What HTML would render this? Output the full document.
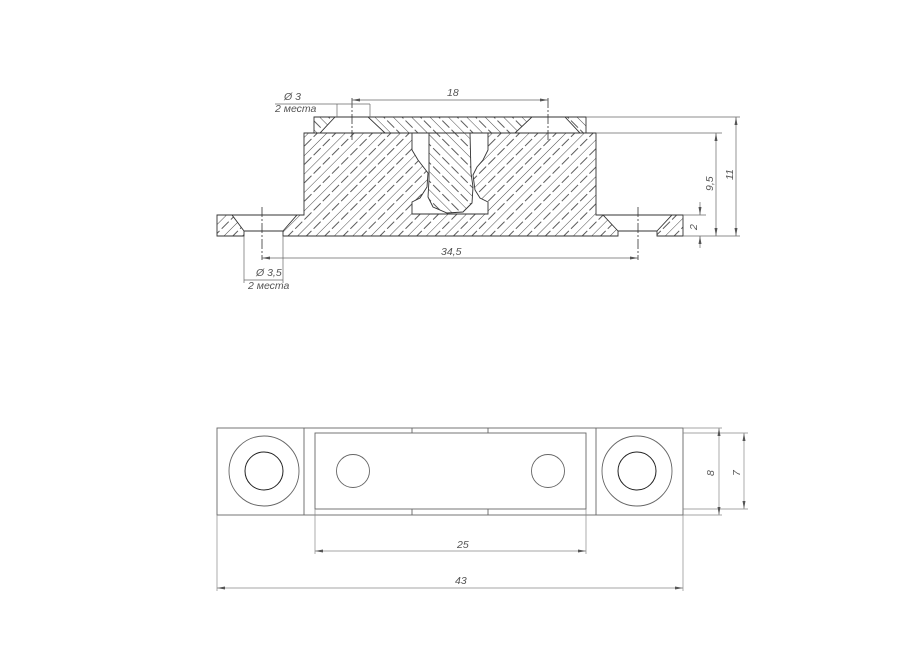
<!DOCTYPE html>
<html><head><meta charset="utf-8"><style>
html,body{margin:0;padding:0;background:#fff;}
svg{display:block;}
text{font-family:"Liberation Sans",sans-serif;font-style:italic;font-size:10.5px;fill:#555;}
</style></head><body>
<svg width="919" height="650" viewBox="0 0 919 650" xmlns="http://www.w3.org/2000/svg">
<defs>
<pattern id="hA" patternUnits="userSpaceOnUse" width="13" height="13" patternTransform="rotate(45)">
<line x1="0" y1="0" x2="0" y2="13" stroke="#222" stroke-width="0.8"/>
<line x1="6.5" y1="0" x2="6.5" y2="13" stroke="#333" stroke-width="0.8" stroke-dasharray="5,3"/>
</pattern>
<pattern id="hB" patternUnits="userSpaceOnUse" width="13" height="13" patternTransform="rotate(-45)">
<line x1="0" y1="0" x2="0" y2="13" stroke="#222" stroke-width="0.8"/>
<line x1="6.5" y1="0" x2="6.5" y2="13" stroke="#333" stroke-width="0.8" stroke-dasharray="5,3"/>
</pattern>
<marker id="ar" markerWidth="8" markerHeight="4" refX="8" refY="2" orient="auto-start-reverse" markerUnits="userSpaceOnUse">
<path d="M0,0.5 L8,2 L0,3.5 Z" fill="#555"/></marker>
</defs>

<g stroke="#333" stroke-width="0.9" stroke-linejoin="miter">
<path d="M217,215 L232,215 L244,231 L244,236 L217,236 Z" fill="url(#hA)"/>
<path fill-rule="evenodd" fill="url(#hA)" d="M283,236 L283,231 L297,215 L304,215 L304,133 L596,133 L596,215 L603,215 L618,231 L618,236 Z
M412,133 L488,133 L488,150 L483,160 L477,167 L473,175 L475,190 L480,198 L488,202 L488,214 L412,214 L412,202 L420,198 L427,187 L428,173 L418,160 L412,150 Z"/>
<path d="M657,236 L657,231 L672,215 L683,215 L683,236 Z" fill="url(#hA)"/>
<path d="M314,117 L335,117 L320,133 L314,133 Z" fill="url(#hB)"/>
<path d="M565,117 L586,117 L586,133 L580,133 Z" fill="url(#hB)"/>
<path d="M368,117 L532,117 L515,133 L470,133 L471,173 L473,187 L472,203 L463,212 L447,213 L433,207 L428,197 L429,180 L429,133 L385,133 Z" fill="url(#hB)"/>
<line x1="335" y1="117" x2="368" y2="117"/>
<line x1="532" y1="117" x2="565" y2="117"/>
<line x1="244" y1="231" x2="283" y2="231"/>
<line x1="618" y1="231" x2="657" y2="231"/>
<line x1="232" y1="215" x2="297" y2="215"/>
<line x1="603" y1="215" x2="672" y2="215"/>
</g>
<g stroke="#333" stroke-width="0.8" stroke-dasharray="10,2,2,2">
<line x1="352" y1="98" x2="352" y2="140"/>
<line x1="548" y1="98" x2="548" y2="140"/>
<line x1="262" y1="207" x2="262" y2="260"/>
<line x1="638" y1="207" x2="638" y2="260"/>
</g>
<g stroke="#666" stroke-width="0.7" fill="none">
<line x1="352" y1="100" x2="548" y2="100" marker-start="url(#ar)" marker-end="url(#ar)"/>
<line x1="275" y1="104" x2="370" y2="104"/>
<line x1="337" y1="104" x2="337" y2="117"/>
<line x1="370" y1="104" x2="370" y2="117"/>
<line x1="262" y1="258" x2="638" y2="258" marker-start="url(#ar)" marker-end="url(#ar)"/>
<line x1="244" y1="236" x2="244" y2="283"/>
<line x1="283" y1="236" x2="283" y2="283"/>
<line x1="244" y1="280" x2="283" y2="280"/>
<line x1="586" y1="117" x2="740" y2="117"/>
<line x1="596" y1="133" x2="722" y2="133"/>
<line x1="683" y1="236" x2="740" y2="236"/>
<line x1="683" y1="215" x2="706" y2="215"/>
<line x1="716" y1="133" x2="716" y2="236" marker-start="url(#ar)" marker-end="url(#ar)"/>
<line x1="736" y1="117" x2="736" y2="236" marker-start="url(#ar)" marker-end="url(#ar)"/>
<line x1="700" y1="202" x2="700" y2="215" marker-end="url(#ar)"/>
<line x1="700" y1="248" x2="700" y2="236" marker-end="url(#ar)"/>
</g>
<text x="447" y="96">18</text>
<text x="284" y="100">Ø 3</text>
<text x="275" y="112">2 места</text>
<text x="441" y="255">34,5</text>
<text x="256" y="276">Ø 3,5</text>
<text x="248" y="289">2 места</text>
<text transform="translate(713,191) rotate(-90)">9,5</text>
<text transform="translate(733,180) rotate(-90)">11</text>
<text transform="translate(697,230) rotate(-90)">2</text>

<g stroke="#666" stroke-width="0.9" fill="none">
<rect x="217" y="428" width="466" height="87"/>
<line x1="304" y1="428" x2="304" y2="515"/>
<line x1="596" y1="428" x2="596" y2="515"/>
<rect x="315" y="433" width="271" height="76"/>
<line x1="412" y1="428" x2="412" y2="433"/>
<line x1="488" y1="428" x2="488" y2="433"/>
<line x1="412" y1="509" x2="412" y2="515"/>
<line x1="488" y1="509" x2="488" y2="515"/>
<circle cx="264" cy="471" r="35"/>
<circle cx="637" cy="471" r="35"/>
<circle cx="353" cy="471" r="16.5"/>
<circle cx="548" cy="471" r="16.5"/>
</g>
<g stroke="#222" stroke-width="1" fill="none">
<circle cx="264" cy="471" r="19"/>
<circle cx="637" cy="471" r="19"/>
</g>
<g stroke="#888" stroke-width="0.7" fill="none">
<line x1="315" y1="509" x2="315" y2="554"/>
<line x1="586" y1="509" x2="586" y2="554"/>
<line x1="315" y1="551" x2="586" y2="551" marker-start="url(#ar)" marker-end="url(#ar)"/>
<line x1="217" y1="515" x2="217" y2="591"/>
<line x1="683" y1="515" x2="683" y2="591"/>
<line x1="217" y1="588" x2="683" y2="588" marker-start="url(#ar)" marker-end="url(#ar)"/>
<line x1="683" y1="428" x2="722" y2="428"/>
<line x1="683" y1="515" x2="722" y2="515"/>
<line x1="683" y1="433" x2="748" y2="433"/>
<line x1="683" y1="509" x2="748" y2="509"/>
<line x1="719" y1="428" x2="719" y2="515" marker-start="url(#ar)" marker-end="url(#ar)"/>
<line x1="744" y1="433" x2="744" y2="509" marker-start="url(#ar)" marker-end="url(#ar)"/>
</g>
<text x="457" y="548">25</text>
<text x="455" y="584">43</text>
<text transform="translate(714,476) rotate(-90)">8</text>
<text transform="translate(740,476) rotate(-90)">7</text>
</svg>
</body></html>
